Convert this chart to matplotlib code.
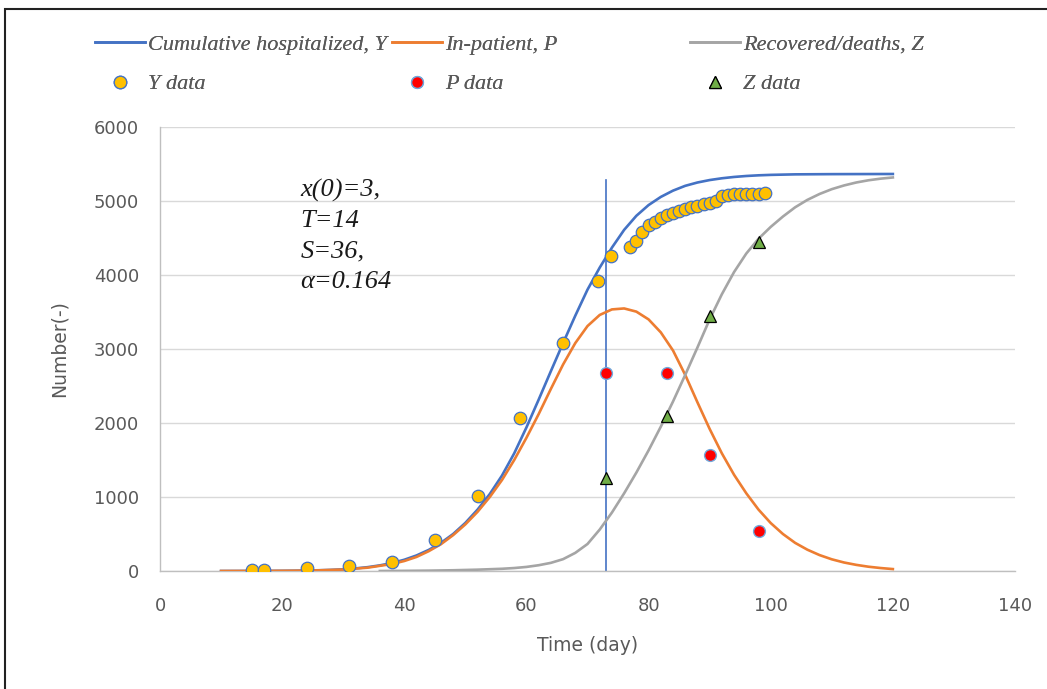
import matplotlib
matplotlib.use("Agg")
import matplotlib.pyplot as plt
from matplotlib.patches import Rectangle

# model curves (day, value)
t_y = [10, 12, 14, 16, 18, 20, 22, 24, 26, 28, 30, 32, 34, 36, 38, 40, 42, 44, 46, 48,
       50, 52, 54, 56, 58, 60, 62, 64, 66, 68, 70, 72, 74, 76, 78, 80, 82, 84, 86, 88,
       90, 92, 94, 96, 98, 100, 104, 110, 115, 120]
cum_y = [0, 0.3, 0.6, 1, 1.5, 2.5, 4, 6, 10, 15, 23, 35, 52, 76, 108, 152, 210, 285, 380,
         500, 650, 830, 1040, 1290, 1590, 1940, 2315, 2700, 3080, 3450, 3802, 4100, 4370,
         4610, 4800, 4945, 5055, 5140, 5205, 5250, 5283, 5307, 5325, 5338, 5347, 5353,
         5360, 5363, 5364, 5365]

t_p = [10, 14, 18, 22, 26, 30, 34, 38, 40, 42, 44, 46, 48, 50, 52, 54, 56, 58, 60, 62,
       64, 66, 68, 70, 72, 74, 76, 78, 80, 82, 84, 86, 88, 90, 92, 94, 96, 98, 100, 102,
       104, 106, 108, 110, 112, 114, 116, 118, 120]
inpat_p = [0, 0.5, 1.3, 3.5, 9, 20, 45, 95, 135, 190, 268, 362, 485, 630, 800, 1000, 1230,
           1500, 1800, 2120, 2460, 2790, 3080, 3310, 3460, 3535, 3548, 3505, 3400, 3225,
           2980, 2650, 2280, 1920, 1590, 1300, 1050, 830, 648, 500, 380, 288, 215, 158,
           115, 83, 58, 40, 26]

t_z = [36, 40, 44, 48, 52, 56, 58, 60, 62, 64, 66, 68, 70, 72, 74, 76, 78, 80, 82, 84,
       86, 88, 90, 92, 94, 96, 98, 100, 102, 104, 106, 108, 110, 112, 114, 116, 118, 120]
recov_z = [0, 2, 5, 10, 18, 30, 40, 55, 78, 110, 160, 245, 365, 560, 790, 1050, 1330,
           1630, 1950, 2290, 2650, 3020, 3400, 3740, 4040, 4290, 4490, 4650, 4790, 4915,
           5015, 5095, 5160, 5210, 5250, 5280, 5302, 5318]

# observations
y_day = [15, 17, 24, 31, 38, 45, 52, 59, 66, 71.7, 73.9,
         77, 78, 79, 80, 81, 82, 83, 84, 85, 86, 87, 88, 89, 90, 91, 92, 93, 94, 95, 96,
         97, 98, 99]
y_obs = [15, 18, 45, 72, 122, 419, 1018, 2072, 3081, 3919, 4257,
         4375, 4465, 4585, 4675, 4720, 4765, 4810, 4840, 4870, 4890, 4915, 4930, 4955,
         4970, 5005, 5065, 5080, 5090, 5090, 5090, 5095, 5100, 5105]

p_day = [73, 83, 90, 98]
p_obs = [2680, 2680, 1568, 541]

z_day = [73, 83, 90, 98]
z_obs = [1261, 2095, 3446, 4450]

# marker line at the reference day
ref_day = [73, 73]
ref_val = [0, 5280]

params = ["x(0)=3,", "T=14", "S=36,", "α=0.164"]

blue = "#4472C4"
orange = "#ED7D31"
grey = "#A5A5A5"
txt = "#595959"

plt.rcParams["font.family"] = ["DejaVu Sans"]

fig = plt.figure(figsize=(10.47, 6.89), dpi=100)
ax = fig.add_axes([160 / 1047, 118 / 689, 855 / 1047, 444 / 689])

ax.plot(t_y, cum_y, color=blue, lw=1.9, label="Cumulative hospitalized, Y", zorder=3)
ax.plot(t_p, inpat_p, color=orange, lw=1.9, label="In-patient, P", zorder=3)
ax.plot(t_z, recov_z, color=grey, lw=1.9, label="Recovered/deaths, Z", zorder=3)
ax.plot(ref_day, ref_val, color=blue, lw=1.2, zorder=2)

ax.plot(y_day, y_obs, ls="none", marker="o", ms=9, mfc="#FFC000", mec=blue, mew=0.9,
        label="Y data", zorder=4)
ax.plot(p_day, p_obs, ls="none", marker="o", ms=8.5, mfc="#FF0000", mec="#6FA8DC",
        mew=1.0, label="P data", zorder=4)
ax.plot(z_day, z_obs, ls="none", marker="^", ms=8, mfc="#70AD47", mec="black",
        mew=0.9, label="Z data", zorder=4)

ax.set_xlim(0, 140)
ax.set_ylim(0, 6000)
ax.set_xticks(range(0, 141, 20))
ax.set_yticks(range(0, 6001, 1000))
ax.grid(axis="y", color="#D9D9D9", lw=1.0)
ax.set_axisbelow(True)
for s in ["top", "right"]:
    ax.spines[s].set_visible(False)
for s in ["left", "bottom"]:
    ax.spines[s].set_color("#BFBFBF")
    ax.spines[s].set_linewidth(1.0)
ax.tick_params(length=0, labelsize=13, labelcolor=txt)
ax.tick_params(axis="y", pad=15)
ax.tick_params(axis="x", pad=19)
ax.set_xlabel("Time (day)", fontsize=13.5, color=txt, labelpad=15)
ax.set_ylabel("Number(-)", fontsize=13.5, color=txt, labelpad=18)

ax.text(0.164, 0.884, "\n".join(params), transform=ax.transAxes, ha="left", va="top",
        fontsize=19, family="Liberation Serif", style="italic", color="#1a1a1a",
        linespacing=1.5)

# legend: three columns of (curve, data) pairs
handles, labels = ax.get_legend_handles_labels()
hmap = dict(zip(labels, handles))
cols = [("Cumulative hospitalized, Y", "Y data", 95),
        ("In-patient, P", "P data", 392),
        ("Recovered/deaths, Z", "Z data", 690)]
for line_lab, data_lab, x0 in cols:
    leg = fig.legend([hmap[line_lab], hmap[data_lab]], [line_lab, data_lab],
                     loc="upper left", bbox_to_anchor=(x0 / 1047, 1 - 34 / 689),
                     frameon=False, borderpad=0, borderaxespad=0, handlelength=2.25,
                     handletextpad=0.15, labelspacing=0.87, numpoints=1,
                     prop={"family": "Liberation Serif", "style": "italic", "size": 16})
    for t in leg.get_texts():
        t.set_color(txt)
    fig.add_artist(leg)

# outer frame
fig.add_artist(Rectangle((5 / 1047, -0.05), 1.1, 1 - 9 / 689 + 0.05,
                         transform=fig.transFigure, fill=False, ec="#222222", lw=1.5))

fig.savefig("out.png", dpi=100)
